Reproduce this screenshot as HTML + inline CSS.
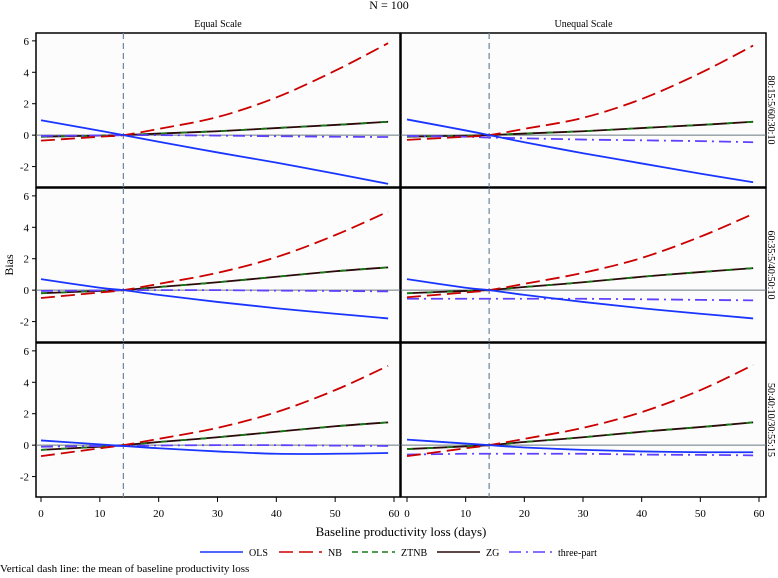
<!DOCTYPE html>
<html><head><meta charset="utf-8"><style>
body{margin:0;background:#fff;font-family:"Liberation Serif",serif;}
svg{display:block}
text{font-family:"Liberation Serif",serif;fill:#000}
</style></head><body>
<svg id="c" width="778" height="578"></svg>
<script>
const xs=[0,10,14,20,30,40,50,59];
const xTicks=[0,10,20,30,40,50,60];
const yTicks=[-2,0,2,4,6];
const colTitles=["Equal Scale","Unequal Scale"];
const rowTitles=["80:15:5/60:30:10","60:35:5/40:50:10","50:40:10/30:55:15"];
// panel order: r1L, r1R, r2L, r2R, r3L, r3R
const olsVals=[[0.95,0.28,0,-0.42,-1.1,-1.75,-2.45,-3.1],[1.0,0.3,0,-0.45,-1.15,-1.8,-2.45,-3.0],[0.7,0.15,0,-0.3,-0.75,-1.15,-1.5,-1.8],[0.7,0.15,0,-0.3,-0.75,-1.15,-1.5,-1.8],[0.3,0.05,-0.05,-0.2,-0.4,-0.55,-0.55,-0.5],[0.35,0.1,0,-0.15,-0.3,-0.4,-0.45,-0.45]];
const nbVals=[[-0.35,-0.1,0,0.4,1.15,2.4,4.1,5.85],[-0.3,-0.1,0,0.4,1.1,2.3,3.95,5.7],[-0.5,-0.15,0,0.4,1.1,2.1,3.5,5.0],[-0.45,-0.15,0,0.4,1.1,2.05,3.4,4.85],[-0.7,-0.2,0,0.4,1.1,2.1,3.5,5.05],[-0.7,-0.2,0,0.4,1.1,2.1,3.5,5.1]];
const ztnbVals=[[-0.1,-0.03,0,0.1,0.25,0.45,0.65,0.85],[-0.1,-0.03,0,0.1,0.25,0.45,0.65,0.85],[-0.2,-0.05,0,0.2,0.5,0.85,1.2,1.45],[-0.2,-0.05,0,0.2,0.5,0.85,1.15,1.4],[-0.3,-0.1,0,0.2,0.5,0.85,1.2,1.45],[-0.25,-0.08,0,0.2,0.5,0.85,1.15,1.45]];
const zgVals=[[-0.1,-0.03,0,0.1,0.25,0.45,0.65,0.85],[-0.1,-0.03,0,0.1,0.25,0.45,0.65,0.85],[-0.2,-0.05,0,0.2,0.5,0.85,1.2,1.45],[-0.2,-0.05,0,0.2,0.5,0.85,1.15,1.4],[-0.3,-0.1,0,0.2,0.5,0.85,1.2,1.45],[-0.25,-0.08,0,0.2,0.5,0.85,1.15,1.45]];
const threeVals=[[-0.05,-0.02,0,0,-0.03,-0.07,-0.1,-0.12],[-0.05,-0.1,-0.15,-0.2,-0.28,-0.33,-0.38,-0.45],[-0.05,-0.02,0,0,0,-0.03,-0.05,-0.08],[-0.55,-0.55,-0.55,-0.55,-0.55,-0.58,-0.62,-0.65],[-0.1,-0.05,-0.05,-0.02,0,0,-0.03,-0.05],[-0.6,-0.55,-0.55,-0.55,-0.55,-0.6,-0.62,-0.65]];
const meanLoss=14;

const NS="http://www.w3.org/2000/svg";
const svg=document.getElementById('c');
function mk(t,a,p){const e=document.createElementNS(NS,t);for(const k in a)e.setAttribute(k,a[k]);(p||svg).appendChild(e);return e;}
const colL=[36,401],colR=[400,766],x0px=[41,407],x60px=[394,759];
const rowTop=[33,188,343],rowH=154,yMax=6.5,yMin=-3.3;
function sx(c,v){return x0px[c]+(v/60)*(x60px[c]-x0px[c]);}
function sy(r,v){return rowTop[r]+(yMax-v)/(yMax-yMin)*rowH;}
function smooth(pts){let d="M"+pts[0][0]+","+pts[0][1];for(let i=0;i<pts.length-1;i++){const p0=pts[i-1]||pts[i],p1=pts[i],p2=pts[i+1],p3=pts[i+2]||p2;d+=" C"+(p1[0]+(p2[0]-p0[0])/6)+","+(p1[1]+(p2[1]-p0[1])/6)+" "+(p2[0]-(p3[0]-p1[0])/6)+","+(p2[1]-(p3[1]-p1[1])/6)+" "+p2[0]+","+p2[1];}return d;}

let t=mk('text',{x:389,y:9,'text-anchor':'middle','font-size':12});t.textContent="N = 100";

for(let c=0;c<2;c++){const e=mk('text',{x:(colL[c]+colR[c])/2,y:27,'text-anchor':'middle','font-size':10});e.textContent=colTitles[c];
}

const series=[
 {name:'ZG',vals:zgVals,color:'#2b0a0a',dash:''},
 {name:'ZTNB',vals:ztnbVals,color:'#167a16',dash:'6 14'},
 {name:'three-part',vals:threeVals,color:'#6040ff',dash:'12 5 2 5'},
 {name:'NB',vals:nbVals,color:'#cc0000',dash:'14 6'},
 {name:'OLS',vals:olsVals,color:'#1a35ff',dash:''}
];
for(let r=0;r<3;r++)for(let c=0;c<2;c++){
 const g=mk('g',{});
 
 
 mk('rect',{x:colL[c],y:rowTop[r],width:colR[c]-colL[c],height:rowH,fill:'#fcfcfc',stroke:'#000','stroke-width':1.5},g);
 mk('line',{x1:colL[c],x2:colR[c],y1:sy(r,0),y2:sy(r,0),stroke:'#6a7a80','stroke-width':1},g);
 const vl=mk('line',{x1:sx(c,meanLoss),x2:sx(c,meanLoss),y1:rowTop[r],y2:rowTop[r]+rowH,stroke:'#6a85a0','stroke-width':1.2,'stroke-dasharray':'6 4'},g);
 
 if(c===0){for(const v of yTicks){mk('line',{x1:colL[0]-4,x2:colL[0],y1:sy(r,v),y2:sy(r,v),stroke:'#000'},g);
  const e=mk('text',{x:colL[0]-7,y:sy(r,v)+4,'text-anchor':'end','font-size':11},g);e.textContent=v;
  }}
 else{const e=mk('text',{x:0,y:0,'font-size':10,'text-anchor':'middle',transform:`translate(768,${rowTop[r]+rowH/2}) rotate(90)`},g);e.textContent=rowTitles[r];
  }
 const i=r*2+c;
 for(const s of series){const pts=xs.map((x,k)=>[sx(c,x),sy(r,s.vals[i][k])]);
  const p=mk('path',{d:smooth(pts),fill:'none',stroke:s.color,'stroke-width':1.8,'stroke-dasharray':s.dash},g);
  }
}
for(let c=0;c<2;c++){for(const v of xTicks){mk('line',{x1:sx(c,v),x2:sx(c,v),y1:497,y2:502,stroke:'#000'});
 const e=mk('text',{x:sx(c,v),y:517,'text-anchor':'middle','font-size':11});e.textContent=v;
 }}
t=mk('text',{x:401,y:536,'text-anchor':'middle','font-size':13});t.textContent="Baseline productivity loss (days)";

t=mk('text',{x:0,y:0,'text-anchor':'middle','font-size':12,transform:'translate(13,265) rotate(-90)'});t.textContent="Bias";

const leg=[['OLS',200,'#1a35ff',''],['NB',279,'#cc0000','14 6'],['ZTNB',352,'#167a16','6 4'],['ZG',437,'#2b0a0a',''],['three-part',509,'#6040ff','12 5 2 5']];
for(const [n,x,col,d] of leg){const g=mk('g',{});
 mk('line',{x1:x,x2:x+43,y1:552,y2:552,stroke:col,'stroke-width':1.6,'stroke-dasharray':d},g);
 const e=mk('text',{x:x+49,y:556,'font-size':10},g);e.textContent=n;}
t=mk('text',{x:0,y:572,'font-size':11});t.textContent="Vertical dash line: the mean of baseline productivity loss";

</script>
</body></html>
